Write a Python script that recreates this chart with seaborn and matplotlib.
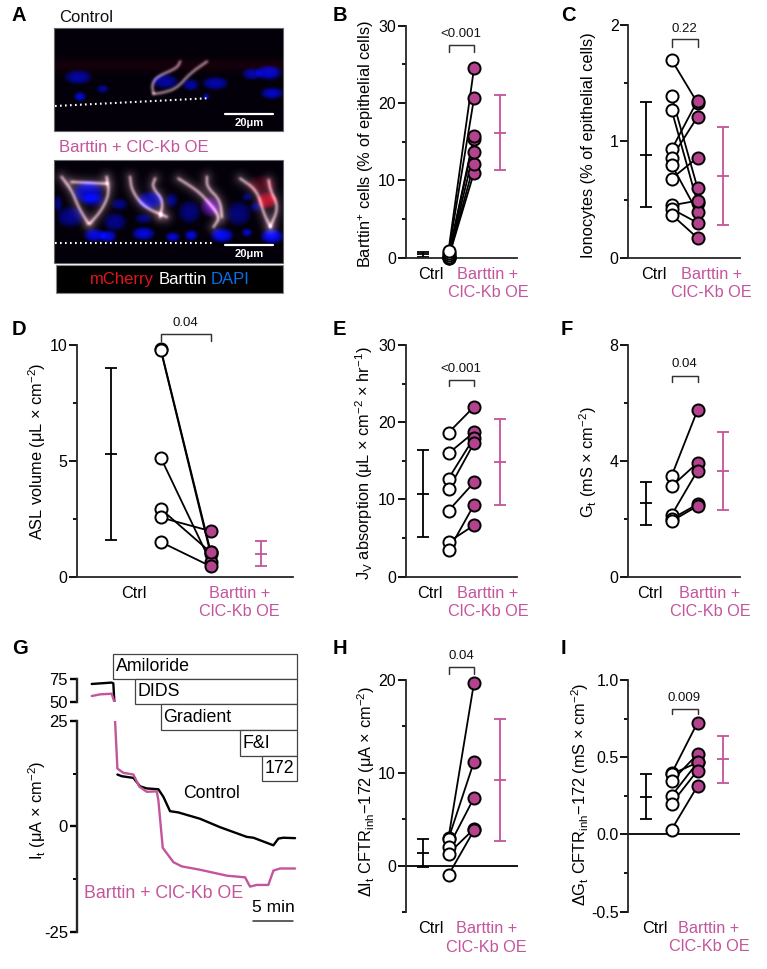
import numpy as np
import pandas as pd
import seaborn as sns
import matplotlib
matplotlib.use('Agg')
import matplotlib.pyplot as plt
from matplotlib.patches import Rectangle

# colours
PINK_TXT = '#C4549B'
PINK_DOT = '#B2438C'

# panel B
b_ctrl = [0.0, 0.0, 0.05, 0.15, 0.3, 0.6, 0.9]
b_trt = [11.0, 12.1, 13.7, 15.4, 15.7, 20.6, 24.5]
b_ctrl_sum = [0.1, 0.45, 0.75]
b_trt_sum = [11.3, 16.1, 21.0]
# panel C
c_ctrl = [1.70, 1.39, 1.27, 0.93, 0.86, 0.80, 0.68, 0.45, 0.42, 0.37]
c_trt = [1.33, 0.60, 0.47, 1.35, 1.21, 0.39, 0.86, 0.49, 0.30, 0.17]
c_ctrl_sum = [0.44, 0.885, 1.335]
c_trt_sum = [0.28, 0.705, 1.126]
# panel D
d_ctrl = [9.85, 9.8, 5.15, 2.93, 2.56, 1.5]
d_trt = [1.08, 0.97, 0.62, 1.05, 1.97, 0.45]
d_ctrl_sum = [1.6, 5.3, 9.0]
d_trt_sum = [0.46, 1.0, 1.54]
# panel E
e_ctrl = [18.65, 15.97, 12.7, 11.3, 8.55, 4.5, 3.4]
e_trt = [22.0, 18.7, 18.0, 17.3, 12.2, 6.65, 9.3]
e_ctrl_sum = [5.1, 10.75, 16.4]
e_trt_sum = [9.3, 14.85, 20.4]
# panel F
f_ctrl = [3.48, 3.12, 2.13, 2.0, 1.92]
f_trt = [5.75, 3.93, 3.66, 2.5, 2.44]
f_ctrl_sum = [1.8, 2.53, 3.27]
f_trt_sum = [2.31, 3.66, 5.0]
# panel H
h_ctrl = [3.0, 2.9, 2.0, 1.3, -1.0]
h_trt = [19.7, 11.2, 7.3, 3.95, 3.8]
h_ctrl_sum = [-0.15, 1.33, 2.85]
h_trt_sum = [2.6, 9.2, 15.8]
# panel I
i_ctrl = [0.395, 0.39, 0.345, 0.25, 0.2, 0.032]
i_trt = [0.724, 0.466, 0.52, 0.466, 0.414, 0.313]
i_ctrl_sum = [0.10, 0.245, 0.39]
i_trt_sum = [0.335, 0.49, 0.64]

# panel G traces, time in min
g_top_t_ctrl = [0.0, 2.5, 2.7, 2.83]
g_top_ctrl = [69.6, 71.1, 70.3, 50.0]
g_top_t_trt = [0.0, 1.04, 2.5, 2.83]
g_top_trt = [56.5, 58.3, 59.0, 50.0]
g_t_ctrl = [3.21, 3.75, 5.21, 6.04, 6.88, 8.33, 8.96, 9.79, 10.83, 13.54, 16.04, 19.38, 20.21, 22.71, 23.33, 23.96, 25.42]
g_ctrl = [12.3, 11.9, 11.5, 9.5, 9.0, 8.8, 7.0, 3.6, 3.3, 1.8, -0.2, -2.5, -2.7, -4.5, -2.9, -2.7, -2.8]
g_t_trt = [2.92, 3.21, 3.96, 5.21, 5.96, 6.88, 8.13, 8.33, 8.88, 10.21, 11.25, 13.54, 16.88, 19.17, 19.79, 20.63, 22.08, 22.71, 23.54, 25.42]
g_trt = [25.0, 13.7, 12.7, 12.3, 9.4, 8.2, 8.3, 6.2, -5.1, -8.5, -9.5, -10.3, -11.7, -12.1, -14.3, -13.9, -13.9, -10.5, -10.0, -10.0]
drug_names = ['Amiloride', 'DIDS', 'Gradient', 'F&I', '172']

# panel A picture contents, in 3x zoom pixel units: x, y, rx, ry, brightness
nuclei_top = [(235, 232, 42, 22, .6), (308, 267, 18, 12, .6), (240, 290, 18, 14, .85), (495, 245, 40, 22, .6),
              (572, 255, 25, 18, .6), (645, 250, 40, 20, .65), (755, 222, 30, 18, .65), (805, 218, 40, 22, .8),
              (815, 280, 35, 18, .75), (618, 290, 10, 8, .9)]
nuclei_low = [(265, 575, 45, 35, .75), (280, 600, 35, 20, .5), (210, 650, 40, 32, .5), (345, 665, 35, 28, .5),
              (358, 612, 25, 18, .5), (450, 600, 40, 28, .65), (430, 655, 25, 15, .5), (515, 600, 18, 22, .5),
              (568, 635, 35, 35, .45), (630, 620, 30, 30, .45), (715, 640, 38, 38, .45), (740, 590, 15, 12, .5),
              (765, 620, 15, 15, .5), (285, 705, 35, 20, .85), (325, 708, 25, 18, .85), (430, 700, 35, 20, .85),
              (518, 710, 22, 14, .85), (573, 705, 20, 16, .85), (665, 705, 35, 22, .95), (740, 697, 16, 12, .8),
              (815, 708, 35, 22, .95), (175, 610, 12, 25, .5)]
reds_low = [(800, 600, 30, 25, .65), (630, 620, 30, 30, .25), (785, 555, 45, 30, .22)]
fibres_top = [[(460, 280), (455, 255), (470, 230), (530, 205), (540, 185)],
              [(620, 185), (570, 220), (530, 265), (490, 278), (460, 282)]]
fibres_low = [[(185, 530), (215, 570), (235, 620), (265, 670)], [(320, 530), (328, 580), (305, 630), (270, 670)],
              [(215, 545), (320, 550)],
              [(390, 530), (395, 570), (430, 620), (500, 650)], [(465, 535), (455, 560), (490, 600), (480, 650)],
              [(535, 535), (590, 570), (620, 600), (660, 650), (640, 680)], [(620, 530), (620, 560), (660, 600), (665, 650)],
              [(720, 535), (770, 570), (790, 640), (810, 680)], [(805, 540), (810, 570), (835, 620), (810, 680)]]

sns.set_theme(style='ticks')
plt.rcParams['font.family'] = ['Liberation Sans', 'DejaVu Sans']
plt.rcParams['mathtext.fontset'] = 'custom'
plt.rcParams['mathtext.rm'] = 'Liberation Sans'
plt.rcParams['mathtext.default'] = 'regular'
plt.rcParams['axes.unicode_minus'] = False
plt.rcParams['axes.linewidth'] = 1.3

W, H = 767, 969
fig = plt.figure(figsize=(W / 100, H / 100), dpi=100)
over = fig.add_axes([0, 0, 1, 1], zorder=5)
over.set_xlim(0, W)
over.set_ylim(H, 0)
over.axis('off')


def axes_px(left, right, top, bottom):
    ax = fig.add_axes([left / W, 1 - bottom / H, (right - left) / W, (bottom - top) / H])
    ax.patch.set_alpha(0)
    return ax


def paired(ax, ctrl, trt, ctrl_sum, trt_sum, x0, step, ylim, major, minor, ticklabels,
           ylabel, label_xy, p_text, p_y, ctrl_x, trt_x, zero_line=False):
    left, right = ax.get_position().x0 * W, ax.get_position().x1 * W
    n = len(ctrl)
    long = pd.DataFrame({'x': [1] * n + [2] * n, 'y': list(ctrl) + list(trt), 'pair': list(range(n)) * 2})
    sns.lineplot(data=long, x='x', y='y', units='pair', estimator=None, color='black', linewidth=1.3,
                 legend=False, ax=ax, clip_on=False)
    sns.scatterplot(x=[1] * n, y=ctrl, s=76, color='white', edgecolor='black', linewidth=1.4, ax=ax,
                    clip_on=False, zorder=4, legend=False)
    sns.scatterplot(x=[2] * n, y=trt, s=76, color=PINK_DOT, edgecolor='black', linewidth=1.4, ax=ax,
                    clip_on=False, zorder=4, legend=False)
    for xpos, vals, col in [(0, ctrl_sum, 'black'), (3, trt_sum, PINK_TXT)]:
        lo, mid, hi = vals
        ax.errorbar([xpos], [mid], yerr=[[mid - lo], [hi - mid]], fmt='_', ms=8.6, mew=1.3, color=col,
                    elinewidth=1.3, capsize=4.3, capthick=1.3, clip_on=False)
    ax.set_xlim((left - x0) / step, (right - x0) / step)
    ax.set_ylim(*ylim)
    ax.set_yticks(major, ticklabels, fontsize=11.5)
    ax.set_yticks(minor, minor=True)
    ax.tick_params(axis='y', which='major', length=5.5, width=1.3, pad=1.5, color='black', labelcolor='black')
    ax.tick_params(axis='y', which='minor', length=3.2, width=1.3, color='black')
    ax.set_xticks([ctrl_x, trt_x], ['Ctrl', 'Barttin +\nClC-Kb OE'], fontsize=11.7, linespacing=1.3)
    ax.tick_params(axis='x', length=0, pad=6.5, labelcolor='black')
    ax.get_xticklabels()[1].set_color(PINK_TXT)
    ax.set_xlabel('')
    ax.set_ylabel(ylabel, fontsize=11.8, color='black', va='center', ha='center')
    ax.yaxis.set_label_coords(label_xy[0], label_xy[1], transform=over.transData)
    sns.despine(ax=ax)
    if zero_line:
        ax.spines['bottom'].set_visible(False)
        ax.axhline(0, color='black', lw=1.3, zorder=1)
    # p-value bracket
    b_hi, b_lo, t_y = p_y
    ax.plot([1, 1, 2, 2], [b_lo, b_hi, b_hi, b_lo], color='#333333', lw=1.05, clip_on=False)
    ax.text(1.5, t_y, p_text, ha='center', va='center', fontsize=9.5, color='#111111', clip_on=False)


ax = axes_px(405.7, 516.7, 25.7, 257.7)
paired(ax, b_ctrl, b_trt, b_ctrl_sum, b_trt_sum, 423, 25.5, (0, 30), [0, 10, 20, 30], [5, 15, 25],
       ['0', '10', '20', '30'], 'Barttin$^{+}$ cells (% of epithelial cells)', (366, 144.5),
       '<0.001', (27.5, 26.6, 28.9), 0.31, 2.55)

ax = axes_px(628.3, 740, 25, 257.7)
paired(ax, c_ctrl, c_trt, c_ctrl_sum, c_trt_sum, 645.7, 25.9, (0, 2), [0, 1, 2], [0.5, 1.5],
       ['0', '1', '2'], 'Ionocytes (% of epithelial cells)', (588, 145),
       '0.22', (1.877, 1.814, 1.966), 0.32, 2.55)

ax = axes_px(77, 293, 345.3, 576.7)
paired(ax, d_ctrl, d_trt, d_ctrl_sum, d_trt_sum, 110.7, 50, (0, 10), [0, 5, 10], [2.5, 7.5],
       ['0', '5', '10'], 'ASL volume (μL × cm$^{-2}$)', (37.3, 450.8),
       '0.04', (10.48, 10.2, 10.95), 0.47, 2.57)

ax = axes_px(405.7, 517, 345, 576.7)
paired(ax, e_ctrl, e_trt, e_ctrl_sum, e_trt_sum, 423, 25.5, (0, 30), [0, 10, 20, 30], [5, 15, 25],
       ['0', '10', '20', '30'], 'J$_{V}$ absorption (μL × cm$^{-2}$ × hr$^{-1}$)', (364, 463),
       '<0.001', (25.46, 24.7, 26.9), 0.27, 2.55)

ax = axes_px(628.3, 740, 345, 576.7)
paired(ax, f_ctrl, f_trt, f_ctrl_sum, f_trt_sum, 645.7, 25.9, (0, 8), [0, 4, 8], [2, 6],
       ['0', '4', '8'], 'G$_{t}$ (mS × cm$^{-2}$)', (588, 461.7),
       '0.04', (6.93, 6.71, 7.33), 0.17, 2.48)

ax = axes_px(405.7, 517.7, 680, 912)
paired(ax, h_ctrl, h_trt, h_ctrl_sum, h_trt_sum, 423, 25.5, (-5, 20), [0, 10, 20], [-5, 5, 15],
       ['0', '10', '20'], 'ΔI$_{t}$ CFTR$_{inh}$−172 (μA × cm$^{-2}$)', (366, 791.7),
       '0.04', (21.4, 20.7, 22.6), 0.30, 2.5, zero_line=True)

ax = axes_px(628.3, 740, 680, 911.7)
paired(ax, i_ctrl, i_trt, i_ctrl_sum, i_trt_sum, 645.7, 25.9, (-0.5, 1.0), [-0.5, 0, 0.5, 1.0], [-0.25, 0.25, 0.75],
       ['-0.5', '0.0', '0.5', '1.0'], 'ΔG$_{t}$ CFTR$_{inh}$−172 (mS × cm$^{-2}$)', (580, 794),
       '0.009', (0.814, 0.778, 0.883), 0.36, 2.44, zero_line=True)

# panel G, broken y axis
t_lim = (-1.84, 25.66)
ax_top = axes_px(77, 297, 679, 702)
ax_low = axes_px(77, 297, 721, 931.7)
sns.lineplot(x=g_top_t_ctrl, y=g_top_ctrl, color='black', lw=1.7, ax=ax_top, sort=False, estimator=None)
sns.lineplot(x=g_top_t_trt, y=g_top_trt, color=PINK_TXT, lw=1.7, ax=ax_top, sort=False, estimator=None)
sns.lineplot(x=g_t_ctrl, y=g_ctrl, color='black', lw=1.7, ax=ax_low, sort=False, estimator=None)
sns.lineplot(x=g_t_trt, y=g_trt, color=PINK_TXT, lw=1.7, ax=ax_low, sort=False, estimator=None)
ax_top.set_ylim(50, 75)
ax_top.set_yticks([50, 75], ['50', '75'], fontsize=12)
ax_low.set_ylim(-25, 25)
ax_low.set_yticks([-25, 0, 25], ['-25', '0', '25'], fontsize=12)
ax_low.set_yticks([-12.5, 12.5], minor=True)
for a in (ax_top, ax_low):
    a.set_xlim(*t_lim)
    a.set_xticks([])
    sns.despine(ax=a, bottom=True)
    a.spines['left'].set_linewidth(1.7)
    a.tick_params(axis='y', which='major', length=5, width=1.7, pad=1.5, color='black', labelcolor='black')
    a.tick_params(axis='y', which='minor', length=3.2, width=1.4, color='black')
    a.set_xlabel('')
ax_low.set_ylabel('I$_{t}$ (μA × cm$^{-2}$)', fontsize=11.8, color='black', va='center', ha='center')
ax_low.yaxis.set_label_coords(36.7, 810, transform=over.transData)

box_right = 296.7
boxes = [(112.7, 653.7, 679), (135, 679, 704.3), (160.7, 704.3, 730), (240, 730, 755.7), (262.3, 755.7, 781.3)]
for (bx, by0, by1), name in zip(boxes, drug_names):
    over.add_patch(Rectangle((bx, by0), box_right - bx, by1 - by0, fc='white', ec='#444444', lw=0.9))
    over.text(bx + 2.8, (by0 + by1) / 2 + 0.3, name, ha='left', va='center', color='black', fontsize=12.8)
over.text(211.7, 794, 'Control', ha='center', va='center', fontsize=12.7, color='black')
over.text(164, 894, 'Barttin + ClC-Kb OE', ha='center', va='center', fontsize=12.8, color=PINK_TXT)
over.text(273, 907.7, '5 min', ha='center', va='center', fontsize=12.5, color='black')
over.plot([253, 293], [920.7, 920.7], color='#333333', lw=1.1)


def chaikin(poly, rounds=3):
    pts = np.array(poly, dtype=float)
    for _ in range(rounds):
        q = 0.75 * pts[:-1] + 0.25 * pts[1:]
        r = 0.25 * pts[:-1] + 0.75 * pts[1:]
        pts = np.vstack([pts[:1], np.column_stack([q, r]).reshape(-1, 2), pts[-1:]])
    return pts


def blur(arr, sigma):
    k = np.exp(-0.5 * (np.arange(-6, 7) / sigma) ** 2)
    k /= k.sum()
    pad = np.pad(arr, 6, mode='edge')
    pad = np.apply_along_axis(lambda v: np.convolve(v, k, mode='same'), 0, pad)
    pad = np.apply_along_axis(lambda v: np.convolve(v, k, mode='same'), 1, pad)
    return pad[6:-6, 6:-6]


# panel A rendered pictures
def render(x0, x1, y0, y1, nuclei, fibres, reds=(), haze=0.0, fibre_glow=0.0):
    xs = np.arange(x0, x1, 1.5)
    ys = np.arange(y0, y1, 1.5)
    xx, yy = np.meshgrid(xs, ys)
    r = np.full(xx.shape, 0.015) + haze * np.exp(-((yy - (y0 + 110)) / 18.0) ** 2)
    g = np.full(xx.shape, 0.0)
    b = np.full(xx.shape, 0.04)
    for cx, cy, rx, ry, amp in nuclei:
        prof = np.clip(1 - ((xx - cx) / rx) ** 2 - ((yy - cy) / ry) ** 2, 0, 1) ** 0.6
        b = b + amp * prof
        g = g + 0.04 * amp * prof
    for cx, cy, rx, ry, amp in reds:
        prof = np.clip(1 - ((xx - cx) / rx) ** 2 - ((yy - cy) / ry) ** 2, 0, 1) ** 0.6
        r = r + amp * prof
        b = b + 0.1 * amp * prof
    for poly in fibres:
        pts = chaikin(poly)
        fibre = np.zeros(xx.shape)
        glow = np.zeros(xx.shape)
        for p, q in zip(pts[:-1], pts[1:]):
            d = q - p
            u = np.clip(((xx - p[0]) * d[0] + (yy - p[1]) * d[1]) / (d @ d), 0, 1)
            dist2 = (xx - p[0] - u * d[0]) ** 2 + (yy - p[1] - u * d[1]) ** 2
            fibre = np.maximum(fibre, 0.75 * np.exp(-dist2 / 14.0))
            glow = np.maximum(glow, fibre_glow * np.exp(-dist2 / 350.0))
        line = fibre + glow
        r = r + line
        g = g + 0.82 * line
        b = b + 0.85 * line
    return np.clip(np.dstack([blur(r, 2.0), blur(g, 2.0), blur(b, 2.0)]), 0, 1)


pic_top = render(163, 848, 85, 394, nuclei_top, fibres_top, haze=0.07)
pic_low = render(163, 848, 480, 788, nuclei_low, fibres_low, reds=reds_low, fibre_glow=0.2)
over.imshow(pic_top, extent=(54.3, 282.7, 131.3, 28.3), interpolation='bilinear', aspect='auto', zorder=1)
over.imshow(pic_low, extent=(54.3, 282.7, 262.7, 160), interpolation='bilinear', aspect='auto', zorder=1)
over.set_xlim(0, W)
over.set_ylim(H, 0)
for top_y, bot_y in [(28.3, 131.3), (160, 262.7)]:
    over.add_patch(Rectangle((54.3, top_y), 228.4, bot_y - top_y, fc='none', ec='#666666', lw=0.8, zorder=2))
over.plot([55, 206.7], [106, 98.3], color='white', lw=1.5, ls=(0, (0.8, 1.6)), zorder=3)
over.plot([55, 211.7], [242.7, 242.7], color='white', lw=1.5, ls=(0, (0.8, 1.6)), zorder=3)
for bar_y, lab_y in [(114.3, 122.5), (245, 254)]:
    over.plot([225, 272.7], [bar_y, bar_y], color='white', lw=1.6, zorder=3)
    over.text(249.3, lab_y, '20μm', color='white', ha='center', va='center', fontsize=8, fontweight='bold', zorder=3)
over.text(59.3, 17, 'Control', ha='left', va='center', fontsize=12, color='#111111')
over.text(59.3, 147.7, 'Barttin + ClC-Kb OE', ha='left', va='center', fontsize=12, color=PINK_TXT)
over.add_patch(Rectangle((55.7, 265.3), 227.6, 28, fc='black', ec='#888888', lw=0.8, zorder=2))
over.text(121.7, 279.5, 'mCherry', color='#E0141E', ha='center', va='center', fontsize=12, zorder=3)
over.text(182.5, 279.5, 'Barttin', color='white', ha='center', va='center', fontsize=12, zorder=3)
over.text(230, 279.5, 'DAPI', color='#0A6FE8', ha='center', va='center', fontsize=12, zorder=3)

# panel letters
for letter, lx, ly in [('A', 11, 21), ('B', 333, 21), ('C', 561, 21), ('D', 12, 335), ('E', 333, 335), ('F', 561, 335),
                       ('G', 12, 654), ('H', 333, 654), ('I', 561, 654)]:
    over.text(lx, ly, letter, ha='left', va='baseline', fontsize=14.5, fontweight='bold', color='black')

fig.savefig('out.png', dpi=100)
